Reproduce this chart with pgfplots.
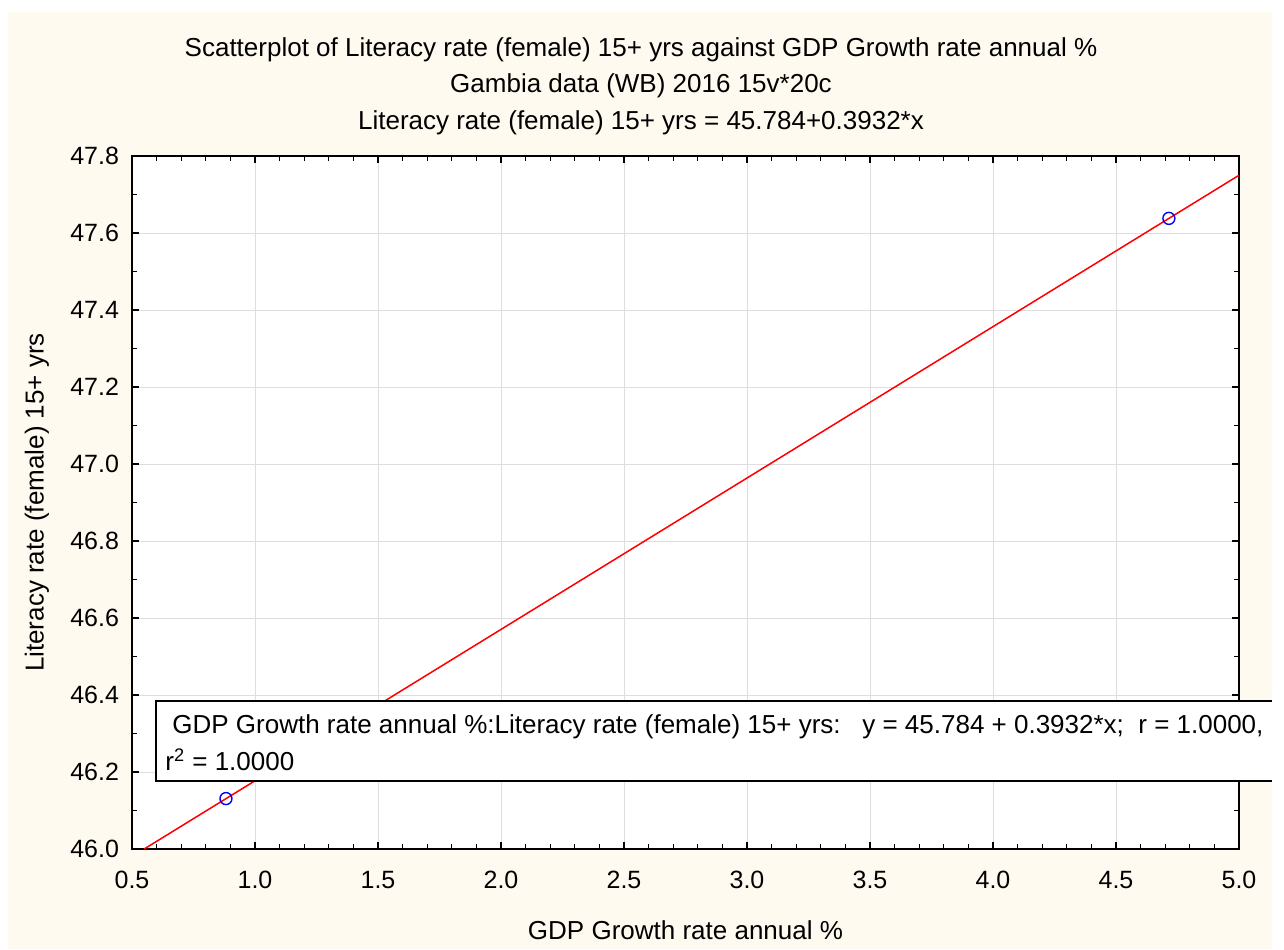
\documentclass[border=0pt]{standalone}
\usepackage{pgfplots}
\pgfplotsset{compat=1.18}
\usepackage{fontspec}
\setmainfont{Liberation Sans}
\definecolor{cream}{RGB}{255,250,240}
\definecolor{gridgray}{RGB}{222,222,222}
\begin{document}
\begin{tikzpicture}
\useasboundingbox (-66pt,-50pt) rectangle (576pt,424.5pt);
\fill[cream] (-62pt,-50pt) rectangle (570pt,418.5pt);
\begin{axis}[
  at={(0,0)}, anchor=south west,
  scale only axis, width=553.5pt, height=346.5pt,
  xmin=0.5, xmax=5.0, ymin=46.0, ymax=47.8,
  xtick={0.5,1.0,...,5.0}, ytick={46.0,46.2,...,47.8},
  minor x tick num=4, minor y tick num=1,
  tick align=inside,
  major tick length=3.5pt, minor tick length=2.5pt,
  grid=major, major grid style={gridgray, line width=0.5pt},
  axis line style={line width=1pt},
  tick style={black, line width=0.6pt},
  axis background/.style={fill=white},
  /pgf/number format/assume math mode=true,
  /pgf/number format/.cd, fixed, fixed zerofill, precision=1, /pgfplots/.cd,
  tick label style={font=\fontsize{12.5}{14}\selectfont},
  xticklabel style={yshift=-7.5pt},
  yticklabel style={xshift=-3pt},
  xlabel={GDP Growth rate annual \%},
  ylabel={Literacy rate (female) 15+ yrs},
  label style={font=\fontsize{13}{15}\selectfont},
  xlabel style={at={(axis description cs:0.5,-0.1169)}, anchor=center},
  ylabel style={at={(axis description cs:-0.0858,0.5)}, anchor=center},
  clip=true,
]
\addplot[red, line width=0.75pt] coordinates {(0.5494,46.0) (5.0,47.750)};
\addplot[only marks, mark=o, mark size=3pt, blue, mark options={line width=0.7pt}] coordinates {(0.882,46.131) (4.715,47.638)};
\end{axis}
% titles
\node[font=\fontsize{13}{15}\selectfont] at (254.5pt,399.5pt) {Scatterplot of Literacy rate (female) 15+ yrs against GDP Growth rate annual \%};
\node[font=\fontsize{13}{15}\selectfont] at (254.5pt,381.5pt) {Gambia data (WB) 2016 15v*20c};
\node[font=\fontsize{13}{15}\selectfont] at (254.5pt,363pt) {Literacy rate (female) 15+ yrs = 45.784+0.3932*x};
% regression box
\fill[white] (12pt,34pt) rectangle (570pt,74pt);
\draw[line width=0.6pt] (570pt,74pt) -- (12pt,74pt) -- (12pt,34pt) -- (570pt,34pt);
\node[anchor=base west, inner sep=0pt, font=\fontsize{13}{15}\selectfont] at (20pt,58pt) {GDP Growth rate annual \%:Literacy rate (female) 15+ yrs:\ \ \ y = 45.784 + 0.3932*x;\ \ r = 1.0000,};
\node[anchor=base west, inner sep=0pt, font=\fontsize{13}{15}\selectfont] at (16.5pt,39.5pt) {r\textsuperscript{2} = 1.0000};
\end{tikzpicture}
\end{document}
